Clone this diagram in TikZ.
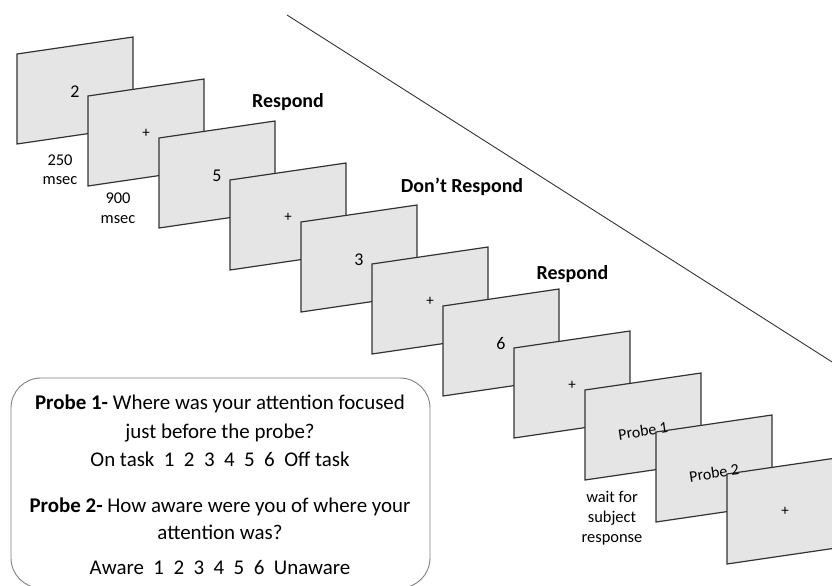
\documentclass[tikz,border=0pt]{standalone}
\usepackage{fontspec}
\setmainfont{Carlito}
\tikzset{
  screenbox/.style={draw=black!80, fill=black!10, line width=1.2bp, line join=miter},
  scrtxt/.style={font=\fontsize{18}{20}\selectfont, inner sep=0pt},
  plustxt/.style={font=\fontsize{15}{18}\selectfont, inner sep=0pt},
  probetxt/.style={font=\fontsize{16}{19}\selectfont, inner sep=0pt, rotate=8.3},
  cuetxt/.style={font=\bfseries\fontsize{20}{24}\selectfont, inner sep=0pt, anchor=base},
  timetxt/.style={font=\fontsize{16.5}{20}\selectfont, inner sep=0pt, anchor=base},
  boxtxt/.style={font=\fontsize{21}{25}\selectfont, inner sep=0pt, anchor=base},
  probebox/.style={draw=black!50, line width=0.9bp, rounded corners=30bp, minimum width=419bp, minimum height=210bp, inner sep=0pt},
  divline/.style={draw=black!80, line width=0.9bp}
}
\begin{document}
\begin{tikzpicture}[x=1bp,y=-1bp]
\useasboundingbox (0,0) rectangle (832,586);
\clip (0,0) rectangle (832,586);
% diagonal line
\coordinate (l1) at (287,15);
\coordinate (l2) at (840,367);
\draw[divline] (l1) -- (l2);
% screens
\foreach \i in {0,...,10}{
  \pgfmathsetmacro{\sx}{17+71*\i}
  \pgfmathsetmacro{\sy}{54+42*\i}
  \draw[screenbox] (\sx,\sy) -- ++(116,-17) -- ++(0,90) -- ++(-116,17) -- cycle;
}
% screen texts (drawn on top)
\foreach \i/\t/\k/\dy in {0/2/scrtxt/37.5,1/+/plustxt/37.5,2/5/scrtxt/37.5,3/+/plustxt/37.5,4/3/scrtxt/37.5,5/+/plustxt/37.5,6/6/scrtxt/37.5,7/+/plustxt/37.5,8/Probe 1/probetxt/41,9/Probe 2/probetxt/41,10/+/plustxt/37}{
  \pgfmathsetmacro{\sx}{17+71*\i}
  \pgfmathsetmacro{\sy}{54+42*\i}
  \node[\k] (s\i) at (\sx+58,\sy+\dy) {\t};
}
% cue labels
\node[cuetxt] (r1) at (288,108) {Respond};
\node[cuetxt] (dr) at (462,193) {Don’t Respond};
\node[cuetxt] (r2) at (572.5,279) {Respond};
% timing labels
\node[timetxt] (t1a) at (60,166) {250};
\node[timetxt] (t1b) at (60,185) {msec};
\node[timetxt] (t2a) at (118,204) {900};
\node[timetxt] (t2b) at (118,224) {msec};
\node[timetxt] (w1) at (612,502) {wait for};
\node[timetxt] (w2) at (612,522) {subject};
\node[timetxt] (w3) at (612,542) {response};
% probe box
\node[probebox] (pb) at (220.5,483) {};
\node[boxtxt] (b1) at (220,409) {\textbf{Probe 1-} Where was your attention focused};
\node[boxtxt] (b2) at (220,438) {just before the probe?};
\node[boxtxt] (b3) at (220,466) {On task\ \ 1\ \ 2\ \ 3\ \ 4\ \ 5\ \ 6\ \ Off task};
\node[boxtxt] (b4) at (220,512) {\textbf{Probe 2-} How aware were you of where your};
\node[boxtxt] (b5) at (220,539) {attention was?};
\node[boxtxt] (b6) at (220,574) {Aware\ \ 1\ \ 2\ \ 3\ \ 4\ \ 5\ \ 6\ \ Unaware};
\end{tikzpicture}
\end{document}
